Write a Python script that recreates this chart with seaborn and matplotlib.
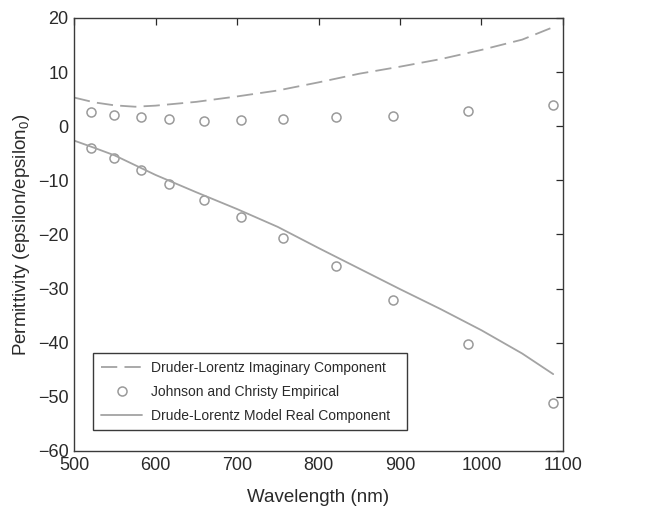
import matplotlib
matplotlib.use("Agg")
import matplotlib.pyplot as plt
import seaborn as sns
import pandas as pd

# Johnson and Christy empirical data (gold)
jc_wavelength = [520.9, 548.6, 582.1, 616.8, 659.5, 704.5, 756.0, 821.1, 892.0, 984.0, 1088.0]
jc_real = [-3.95, -5.84, -8.11, -10.66, -13.65, -16.82, -20.61, -25.81, -32.04, -40.27, -51.05]
jc_imag = [2.58, 2.11, 1.66, 1.37, 1.04, 1.07, 1.27, 1.63, 1.92, 2.79, 3.86]

# Drude-Lorentz model curves
model_wavelength = [500, 525, 550, 575, 600, 650, 700, 750, 800, 850, 900, 950, 1000, 1050, 1088]
model_imag = [5.3, 4.4, 3.85, 3.6, 3.8, 4.5, 5.5, 6.6, 8.1, 9.7, 11.0, 12.4, 14.1, 16.0, 18.3]
model_real = [-2.65, -4.0, -5.4, -7.2, -9.0, -12.2, -15.3, -18.6, -22.5, -26.3, -30.1, -33.8, -37.7, -42.0, -45.8]

x_ticks = [500, 600, 700, 800, 900, 1000, 1100]
y_ticks = [-60, -50, -40, -30, -20, -10, 0, 10, 20]

sns.set_style("white")
plt.rcParams["font.family"] = ["Liberation Sans", "DejaVu Sans"]
plt.rcParams["mathtext.default"] = "regular"
plt.rcParams["axes.unicode_minus"] = True

gray = "#a3a3a3"
circ = "#9a9a9a"
dark = "#2a2a2a"

fig = plt.figure(figsize=(6.51, 5.13), dpi=100)
ax = fig.add_axes([0.1137, 0.1209, 0.7511, 0.8441])

df_model = pd.DataFrame({"wl": model_wavelength, "im": model_imag, "re": model_real})
df_jc = pd.DataFrame({"wl": jc_wavelength, "re": jc_real, "im": jc_imag})
df_jc_all = pd.concat([df_jc[["wl", "re"]].rename(columns={"re": "v"}),
                       df_jc[["wl", "im"]].rename(columns={"im": "v"})], ignore_index=True)

sns.lineplot(data=df_model, x="wl", y="im", ax=ax, color=gray, lw=1.3,
             linestyle=(0, (9, 4)), label="Druder-Lorentz Imaginary Component",
             estimator=None, sort=False)
ax.plot(df_jc_all["wl"], df_jc_all["v"], linestyle="none", marker="o", ms=6.5,
        mfc="none", mec=circ, mew=1.1, label="Johnson and Christy Empirical")
sns.lineplot(data=df_model, x="wl", y="re", ax=ax, color=gray, lw=1.3,
             label="Drude-Lorentz Model Real Component", estimator=None, sort=False)

ax.set_xlim(500, 1100)
ax.set_ylim(-60, 20)
ax.set_xticks(x_ticks)
ax.set_yticks(y_ticks)
ax.tick_params(direction="in", length=5, width=0.9, top=True, right=True,
               labelsize=13, colors=dark, pad=4)
for s in ax.spines.values():
    s.set_color("#3a3a3a")
    s.set_linewidth(1.0)

ax.set_xlabel("Wavelength (nm)", fontsize=13.5, color=dark, labelpad=11)
ax.set_ylabel(r"Permittivity (epsilon/epsilon$_0$)", fontsize=13.5, color=dark, labelpad=4)

leg = ax.legend(loc="lower left", bbox_to_anchor=(0.039, 0.048, 0.642, 0.178),
                mode="expand", fontsize=10,
                frameon=True, fancybox=False, framealpha=1, edgecolor="#3a3a3a",
                handlelength=3.0, handletextpad=0.6, borderpad=0.55,
                labelspacing=0.7, borderaxespad=0)
leg.get_frame().set_linewidth(1.0)
for t in leg.get_texts():
    t.set_color(dark)

fig.savefig("out.png", dpi=100)
